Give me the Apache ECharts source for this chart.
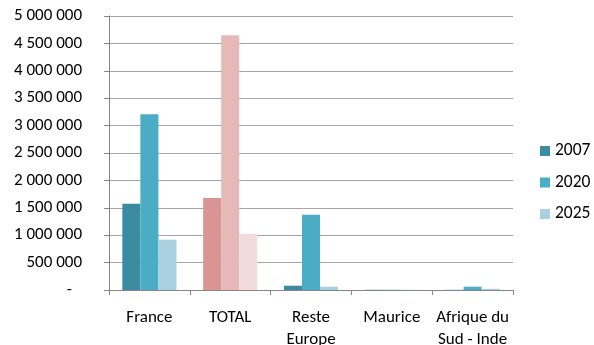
<!DOCTYPE html>
<html>
<head>
<meta charset="utf-8">
<script src="https://cdn.jsdelivr.net/npm/echarts@6/dist/echarts.min.js"></script>
<style>
  html, body { margin: 0; padding: 0; background: #fff; }
  #chart { width: 594px; height: 345px; }
</style>
</head>
<body>
<div id="chart"></div>
<script>
const categories = ['France', 'TOTAL', 'Reste\nEurope', 'Maurice', 'Afrique du\nSud - Inde'];
const seriesNames = ['2007', '2020', '2025'];
const values2007 = [1575000, 1680000, 78000, 4000, 3000];
const values2020 = [3205000, 4650000, 1375000, 5000, 60000];
const values2025 = [918000, 1027000, 60000, 3000, 22000];
const yTicks = [0, 500000, 1000000, 1500000, 2000000, 2500000, 3000000, 3500000, 4000000, 4500000, 5000000];

const baseColors = ['#3B8BA1', '#4BACC6', '#A9D0DE'];
const totalColors = ['#D99594', '#E6B9B8', '#F2DCDB'];
const totalIndex = categories.indexOf('TOTAL');

// Thousands grouped with spaces; zero shown as a dash (accounting style)
function fmt(v) {
  if (v === 0) return '{dash|-}';
  return String(v).replace(/\B(?=(\d{3})+(?!\d))/g, ' ');
}

function build(values, s) {
  return values.map((v, i) => i === totalIndex
    ? { value: v, itemStyle: { color: totalColors[s] } }
    : v);
}

const allValues = [values2007, values2020, values2025];
const font = 'Carlito, "Open Sans", "Noto Sans", sans-serif';

const chart = echarts.init(document.getElementById('chart'), null, { renderer: 'canvas' });
chart.setOption({
  animation: false,
  textStyle: { fontFamily: font },
  grid: { left: 109, right: 81, top: 16, bottom: 55, containLabel: false, outerBoundsMode: 'none' },
  legend: {
    orient: 'vertical',
    left: 540,
    top: 142,
    padding: 0,
    itemWidth: 10,
    itemHeight: 10,
    itemGap: 13.5,
    icon: 'rect',
    textStyle: { fontSize: 17.5, color: '#000', fontFamily: font },
    data: seriesNames
  },
  xAxis: {
    type: 'category',
    data: categories,
    axisLine: { lineStyle: { color: '#868686' } },
    axisTick: { show: true, length: 5, lineStyle: { color: '#868686' } },
    axisLabel: { color: '#000', fontSize: 17, margin: 17, lineHeight: 22, interval: 0 }
  },
  yAxis: {
    type: 'value',
    min: yTicks[0],
    max: yTicks[yTicks.length - 1],
    interval: yTicks[1] - yTicks[0],
    axisLine: { show: true, lineStyle: { color: '#868686' } },
    axisTick: { show: true, length: 5, lineStyle: { color: '#868686' } },
    axisLabel: {
      color: '#000', fontSize: 17, margin: 27, formatter: fmt,
      rich: { dash: { fontSize: 17, padding: [0, 10, 0, 0] } }
    },
    splitLine: { lineStyle: { color: '#A6A6A6', width: 1 } }
  },
  series: seriesNames.map((name, s) => ({
    name: name,
    type: 'bar',
    data: build(allValues[s], s),
    itemStyle: { color: baseColors[s] },
    barGap: '0%',
    barCategoryGap: '33%'
  }))
});
</script>
</body>
</html>
